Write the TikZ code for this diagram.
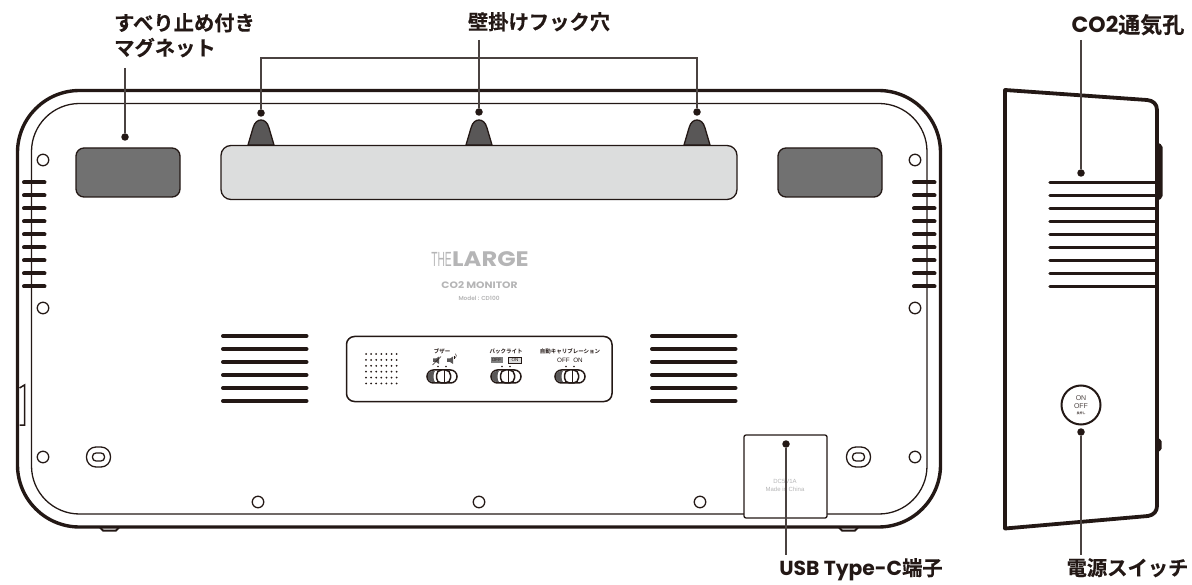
\documentclass[tikz,border=0pt]{standalone}
\usepackage{fontspec}
\setmainfont{Liberation Sans}
\newfontfamily\cjk{Noto Sans CJK JP Bold}
\newfontfamily\cjkb[FakeBold=0.35]{Noto Sans CJK JP Bold}
\newfontfamily\pop{Poppins SemiBold}
\newfontfamily\popb{Poppins Bold}
\definecolor{ink}{HTML}{231815}
\definecolor{lead}{HTML}{4A4240}
\definecolor{magnet}{HTML}{717171}
\definecolor{hook}{HTML}{595757}
\definecolor{plate}{HTML}{DCDDDD}
\definecolor{soft}{HTML}{B5B5B6}
\tikzset{
  body/.style={draw=ink,line width=3.4pt},
  inner/.style={draw=ink,line width=1.3pt},
  thin/.style={draw=ink,line width=1.3pt},
  slot/.style={draw=ink,line width=4pt,line cap=round},
  sideslot/.style={draw=ink,line width=3.4pt,line cap=round},
  leader/.style={draw=lead,line width=1.3pt},
  dotmark/.style={circle,fill=ink,inner sep=0pt,minimum size=7.5pt},
  hole/.style={circle,draw=ink,line width=1.3pt,inner sep=0pt,minimum size=11.5pt},
  lab/.style={font=\cjkb\fontsize{20.3}{25}\selectfont,text=ink,inner sep=0pt,align=left},
  tiny/.style={font=\cjk\fontsize{5.5}{6}\selectfont,text=ink,inner sep=0pt},
}
\newcommand{\mount}[2]{%
  \draw[thin,rounded corners=9.5pt] (#1-12,#2-10) rectangle (#1+12,#2+10);
  \draw[thin,rounded corners=3.5pt] (#1-6,#2-4) rectangle (#1+6,#2+4);}
\newcommand{\hookshape}[1]{%
  \draw[thin,fill=hook] (#1-13,145) -- (#1-8,128) .. controls (#1-6.5,122) and (#1-3,120) .. (#1,120) .. controls (#1+3,120) and (#1+6.5,122) .. (#1+8,128) -- (#1+13,145) -- cycle;}
\newcommand{\toggle}[1]{%
  \draw[draw=ink,line width=1.5pt,fill=white,rounded corners=6.5pt] (#1-15,370) rectangle (#1+15,383);
  \fill[hook] (#1-7,370.8) .. controls (#1-12,370.8) and (#1-14.2,373) .. (#1-14.2,376.5) .. controls (#1-14.2,380) and (#1-12,382.2) .. (#1-7,382.2) .. controls (#1-9,380) and (#1-9,373) .. (#1-7,370.8) -- cycle;
  \draw[draw=ink,line width=1.5pt,fill=white,rounded corners=5pt] (#1-5.5,370) rectangle (#1+8.5,383);
  \draw[draw=ink,line width=1pt] (#1+2,370) -- (#1+2,383);
  \fill[ink] (#1-4,366.5) circle (.8pt) (#1+4,366.5) circle (.8pt);}
\begin{document}
\begin{tikzpicture}[x=1pt,y=-1pt]
\useasboundingbox (0,0) rectangle (1192,585);
% case
\draw[body,rounded corners=62pt] (17.5,90.5) rectangle (940.5,527);
\draw[inner,rounded corners=48pt] (31.5,103.5) rectangle (927,514);
% feet and side tab
\draw[thin,line width=1.5pt] (19.5,388) -- (24.5,385) -- (24.5,425) -- (19.5,425);
\draw[line width=2pt,draw=ink] (100,527.5) -- (103,530.5) -- (116,530.5) -- (119,527.5);
\draw[line width=2pt,draw=ink] (839,527.5) -- (842,530.5) -- (855,530.5) -- (858,527.5);
% edge vents
\foreach \y in {182.5,195.5,208.5,221.5,234.5,247.5,260.5,273.5,286.5}{
  \draw[slot] (24,\y) -- (44.5,\y);
  \draw[slot] (914,\y) -- (934.5,\y);
}
% holes
\node[hole] (h1) at (43,160) {};
\node[hole] (h2) at (43,308) {};
\node[hole] (h3) at (43,457) {};
\node[hole] (h4) at (915,160) {};
\node[hole] (h5) at (915,308) {};
\node[hole] (h6) at (915,457) {};
\node[hole] (h7) at (258,502) {};
\node[hole] (h8) at (479,502) {};
\node[hole] (h9) at (700,502) {};
\mount{98.5}{457}
\mount{858.5}{457}
% magnets and plate
\draw[thin,fill=magnet,rounded corners=8pt] (76,148) rectangle (180,197);
\draw[thin,fill=magnet,rounded corners=8pt] (778,148) rectangle (882,197);
\hookshape{261}
\hookshape{479}
\hookshape{697}
\draw[thin,fill=plate,rounded corners=10pt] (221,145.5) rectangle (737,199.5);
% lower vents
\foreach \y in {336,349,362,375,388,401}{
  \draw[slot] (223,\y) -- (306.5,\y);
  \draw[slot] (652,\y) -- (735.5,\y);
}
% logo
\node[font=\fontsize{20.5}{20}\selectfont,text=soft,inner sep=0pt] (logoa) at (441.5,259) {\scalebox{.5}[1]{THE}};
\node[font=\popb\fontsize{21}{21}\selectfont,text=soft,inner sep=0pt,anchor=west] (logob) at (452,259) {\scalebox{1.15}[1]{LARGE}};
\node[font=\popb\fontsize{9.3}{10}\selectfont,text=soft,inner sep=0pt] (co) at (479.5,285) {\scalebox{1.15}[1]{CO2 MONITOR}};
\node[font=\pop\fontsize{5.8}{6}\selectfont,text=soft,inner sep=0pt] (mod) at (479,298) {Model : CD100};
% control panel
\draw[draw=ink,line width=1.5pt,rounded corners=8pt] (346.5,336.5) rectangle (612,401.5);
\foreach \i in {0,...,6}{\foreach \j in {0,...,5}{
  \fill[ink] (366+\i*5.1,354+\j*5.9) circle (1pt);}}
\node[tiny] (t1) at (442,351) {ブザー};
\node[tiny] (t2) at (506,351) {バックライト};
\node[tiny] (t3) at (570,351) {自動キャリブレーション};
\fill[hook] (433,358.5) -- (436,358.5) -- (439,356.5) -- (439,364) -- (436,362) -- (433,362) -- cycle;
\draw[ink,line width=.6pt] (432.5,365) -- (441,356.5);
\fill[hook] (447,358.5) -- (450,358.5) -- (453,356.5) -- (453,364) -- (450,362) -- (447,362) -- cycle;
\draw[ink,line width=.5pt] (454.2,359) arc (-40:40:2pt);
\draw[ink,line width=.5pt] (455.5,358) arc (-40:40:3.4pt);
\node[font=\fontsize{4.6}{5}\selectfont,text=ink,fill=gray,inner sep=0pt,minimum width=12pt,minimum height=6.5pt] (off) at (496.5,360) {OFF};
\node[font=\fontsize{4.6}{5}\selectfont,text=ink,draw=ink,fill=plate,line width=.4pt,inner sep=0pt,minimum width=13pt,minimum height=6.5pt] (on) at (515,360) {ON};
\node[font=\fontsize{6.3}{6}\selectfont,text=ink,inner sep=0pt] (t4) at (570,360) {OFF\ \ ON};
\toggle{442}
\toggle{506}
\toggle{570}
% USB cover
\draw[thin,fill=white,rounded corners=2pt] (744,435) rectangle (827,518);
\node[font=\fontsize{6}{7}\selectfont,text=soft,inner sep=0pt] (dc) at (785,481) {DC5V1A};
\node[font=\fontsize{6}{7}\selectfont,text=soft,inner sep=0pt] (mc) at (785,489.5) {Made in China};
% side view
\fill[ink,rounded corners=2pt] (1155,141.5) -- (1162.5,145) -- (1162.5,198) -- (1155,202) -- cycle;
\fill[ink,rounded corners=2pt] (1155,437.5) -- (1161.7,439.5) -- (1161.7,450.5) -- (1155,452.5) -- cycle;
\draw[draw=ink,line width=3.8pt,line join=round] (1005,90) -- (1147,100) .. controls (1153,100.5) and (1157,104) .. (1157,110) -- (1157,506) .. controls (1157,511) and (1154,515) .. (1148,516) -- (1005,528.5) -- cycle;
\foreach \y in {182.7,195.7,208.7,221.7,234.7,247.7,260.7,273.7,286.7}{
  \draw[sideslot] (1050,\y) -- (1157,\y);
}
\node[circle,draw=ink,line width=2pt,minimum size=39pt,inner sep=0pt,font=\fontsize{7}{8}\selectfont,text=ink!80,align=center] (sw) at (1081,405) {ON\\OFF\\[-2.5pt]{\fontsize{3}{3}\selectfont\cjk 長押し}};
% labels
\node[lab,anchor=north west] (magl) at (114,13) {すべり止め付き\\マグネット};
\node[lab,anchor=north] (hookl) at (539,12) {壁掛けフック穴};
\node[lab,anchor=north,font=\cjkb\fontsize{22}{25}\selectfont] (co2l) at (1128,14) {{\popb CO2}通気孔};
\node[lab,anchor=north] (usbl) at (861,558) {{\popb USB Type-C}端子};
\node[lab,anchor=north] (powl) at (1127.5,558) {電源スイッチ};
% leaders
\node[dotmark] (d1) at (125,137) {};
\draw[leader] (125,68) -- (d1);
\node[dotmark] (d2) at (261,113) {};
\node[dotmark] (d3) at (479,112) {};
\node[dotmark] (d4) at (697,112) {};
\coordinate (hl) at (479,40);
\coordinate (bl) at (261,58);
\coordinate (br) at (697,58);
\draw[leader] (hl) -- (d3);
\draw[leader] (d2) -- (bl) -- (br) -- (d4);
\node[dotmark] (d5) at (1081,173) {};
\coordinate (ct) at (1081,40);
\draw[leader] (ct) -- (d5);
\node[dotmark] (d6) at (786,444) {};
\coordinate (ub) at (786,555);
\draw[leader] (d6) -- (ub);
\node[dotmark] (d7) at (1081,432) {};
\coordinate (pb) at (1081,555);
\draw[leader] (d7) -- (pb);
\end{tikzpicture}
\end{document}
